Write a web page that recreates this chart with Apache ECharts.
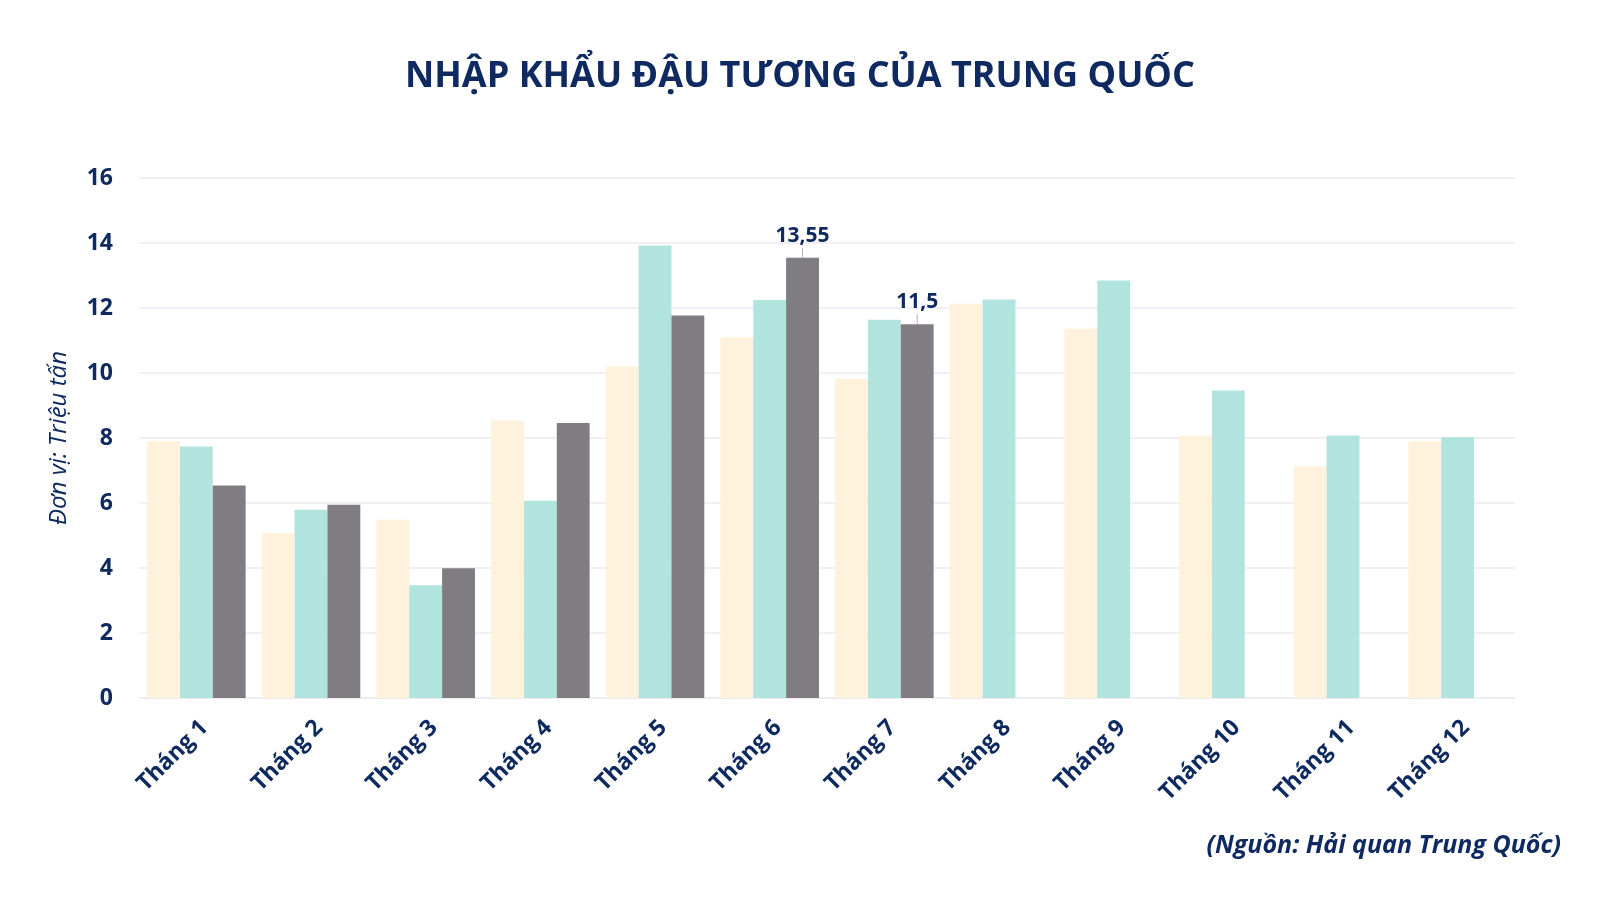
<!DOCTYPE html>
<html>
<head>
<meta charset="utf-8">
<title>Nhập khẩu đậu tương của Trung Quốc</title>
<script src="https://cdn.jsdelivr.net/npm/echarts@6/dist/echarts.min.js"></script>
<style>
  html, body { margin: 0; padding: 0; background: #fff; }
  #chart { width: 1600px; height: 900px; }
</style>
</head>
<body>
<div id="chart"></div>
<script>
// dữ liệu (triệu tấn)
var months = ['Tháng 1', 'Tháng 2', 'Tháng 3', 'Tháng 4', 'Tháng 5', 'Tháng 6',
  'Tháng 7', 'Tháng 8', 'Tháng 9', 'Tháng 10', 'Tháng 11', 'Tháng 12'];
var year2024 = [7.9, 5.08, 5.49, 8.54, 10.2, 11.1, 9.82, 12.13, 11.36, 8.07, 7.13, 7.9];
var year2025 = [7.74, 5.79, 3.47, 6.07, 13.92, 12.25, 11.64, 12.26, 12.85, 9.46, 8.08, 8.02];
var year2026 = [6.54, 5.95, 3.99, 8.46, 11.77, 13.55, 11.5, null, null, null, null, null];
var labeledMonths = [5, 6];   // cột có ghi số liệu
var yTicks = [0, 2, 4, 6, 8, 10, 12, 14, 16];

var navy = '#0e2a60';
var font = "'Open Sans', 'Noto Sans', sans-serif";

// nhãn số liệu + đường dẫn mảnh nối xuống đỉnh cột
function withLabels(values, idxs) {
  return values.map(function (v, i) {
    if (idxs.indexOf(i) < 0) return v;
    return {
      value: v,
      label: {
        show: true,
        position: 'top',
        distance: 0,
        align: 'center',
        formatter: function (p) {
          return '{v|' + String(p.value).replace('.', ',') + '}\n{l|}';
        },
        rich: {
          v: { color: navy, fontFamily: font, fontWeight: 'bold', fontSize: 21, lineHeight: 24, align: 'center' },
          l: { width: 1, height: 10, backgroundColor: '#b3b1b8', align: 'center' }
        }
      }
    };
  });
}

var chart = echarts.init(document.getElementById('chart'));
chart.setOption({
  backgroundColor: '#ffffff',
  animation: false,
  title: [
    {
      text: 'NHẬP KHẨU ĐẬU TƯƠNG CỦA TRUNG QUỐC',
      left: 'center',
      top: 54,
      textStyle: { color: navy, fontFamily: font, fontWeight: 'bold', fontSize: 36 }
    },
    {
      text: '(Nguồn: Hải quan Trung Quốc)',
      right: 34,
      top: 828,
      textStyle: { color: navy, fontFamily: font, fontWeight: 'bold', fontStyle: 'italic', fontSize: 25 }
    }
  ],
  grid: { left: 139, right: 85, top: 178, bottom: 202 },
  xAxis: {
    type: 'category',
    data: months,
    axisLine: { show: true, lineStyle: { color: '#eeeaf0' } },
    axisTick: { show: false },
    axisLabel: {
      interval: 0,
      rotate: 45,
      margin: 18,
      verticalAlign: 'top',
      color: navy,
      fontFamily: font,
      fontWeight: 'bold',
      fontSize: 23
    }
  },
  yAxis: {
    type: 'value',
    min: yTicks[0],
    max: yTicks[yTicks.length - 1],
    interval: 2,
    name: 'Đơn vị: Triệu tấn',
    nameLocation: 'middle',
    nameRotate: 90,
    nameGap: 68,
    nameTextStyle: { color: navy, fontFamily: font, fontStyle: 'italic', fontSize: 24 },
    axisLine: { show: false },
    axisTick: { show: false },
    axisLabel: { margin: 26, color: navy, fontFamily: font, fontWeight: 'bold', fontSize: 23 },
    splitLine: { lineStyle: { color: '#eeeaf0', width: 1.5 } }
  },
  series: [
    {
      name: '2024', type: 'bar', data: year2024,
      barGap: '0%', barCategoryGap: '14%',
      itemStyle: { color: '#fff2dd' }
    },
    {
      name: '2025', type: 'bar', data: year2025,
      barGap: '0%', barCategoryGap: '14%',
      itemStyle: { color: '#b1e4de' }
    },
    {
      name: '2026', type: 'bar', data: withLabels(year2026, labeledMonths),
      barGap: '0%', barCategoryGap: '14%',
      itemStyle: { color: '#807d82' }
    }
  ]
});
</script>
</body>
</html>
